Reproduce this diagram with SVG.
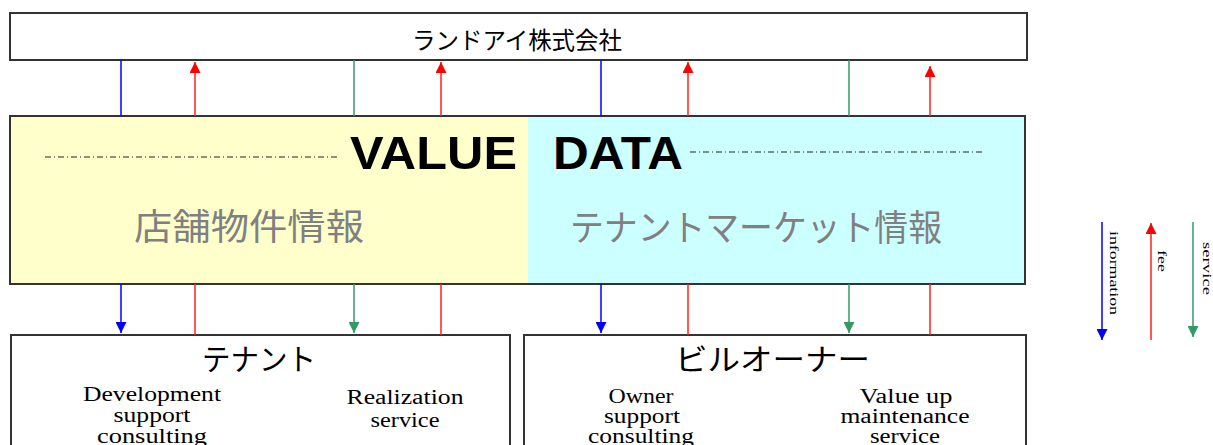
<svg xmlns="http://www.w3.org/2000/svg" width="1213" height="445" viewBox="0 0 1213 445">
<style>
.box{fill:#fff;stroke:#333;stroke-width:2}
.jp{font-family:"Noto Sans CJK JP","Noto Sans",sans-serif}
.ser{font-family:"Liberation Serif","DejaVu Serif",serif;font-size:20px;fill:#000;text-anchor:middle}
.gray{font-family:"Noto Sans CJK JP",sans-serif;font-size:36px;fill:#808080}
.vd{font-family:"Liberation Sans",Arial,sans-serif;font-weight:bold;font-size:46px;fill:#000}
.dash{stroke:#222;stroke-width:1;stroke-dasharray:6 3 1 3;fill:none}
.info{stroke:#0000FF;stroke-width:1.5;fill:none}
.fee{stroke:#FF2020;stroke-width:1.5;fill:none}
.svc{stroke:#339966;stroke-width:1.5;fill:none}
.leg{font-family:"Liberation Serif",serif;font-size:13px;fill:#000}
</style>
<defs>
<marker id="hb" viewBox="0 0 10 10" refX="10" refY="5" markerWidth="13" markerHeight="11" markerUnits="userSpaceOnUse" orient="auto"><path d="M0,0L10,5L0,10z" fill="#0000FF"/></marker>
<marker id="hr" viewBox="0 0 10 10" refX="10" refY="5" markerWidth="13" markerHeight="11" markerUnits="userSpaceOnUse" orient="auto"><path d="M0,0L10,5L0,10z" fill="#FF0000"/></marker>
<marker id="hg" viewBox="0 0 10 10" refX="10" refY="5" markerWidth="13" markerHeight="11" markerUnits="userSpaceOnUse" orient="auto"><path d="M0,0L10,5L0,10z" fill="#339966"/></marker>
</defs>

<g id="landi">
<rect class="box" x="10" y="13" width="1017" height="47"/>
<text class="jp" x="412" y="49" font-size="24" textLength="210" lengthAdjust="spacingAndGlyphs">ランドアイ株式会社</text>
</g>

<g id="valuedata">
<rect x="10" y="116" width="518" height="168" fill="#FFFFCC"/>
<rect x="528" y="116" width="497" height="168" fill="#CCFFFF"/>
<rect x="10" y="116" width="1015" height="168" fill="none" stroke="#333" stroke-width="2"/>
<line class="dash" x1="45" y1="157" x2="340" y2="157"/>
<line class="dash" x1="690" y1="152" x2="985" y2="152"/>
<text class="vd" x="350" y="169" textLength="167" lengthAdjust="spacingAndGlyphs">VALUE</text>
<text class="vd" x="553" y="169" textLength="130" lengthAdjust="spacingAndGlyphs">DATA</text>
<text class="gray" x="134" y="240" textLength="230" lengthAdjust="spacingAndGlyphs">店舗物件情報</text>
<text class="gray" x="570" y="241" textLength="372" lengthAdjust="spacingAndGlyphs">テナントマーケット情報</text>
</g>

<g id="tenant">
<rect class="box" x="11" y="335" width="499" height="130"/>
<text class="jp" x="202" y="370" font-size="30" textLength="114" lengthAdjust="spacingAndGlyphs">テナント</text>
<text class="ser" x="152" y="401" textLength="138" lengthAdjust="spacingAndGlyphs">Development</text>
<text class="ser" x="152" y="422" textLength="77" lengthAdjust="spacingAndGlyphs">support</text>
<text class="ser" x="152" y="443" textLength="110" lengthAdjust="spacingAndGlyphs">consulting</text>
<text class="ser" x="405" y="404" textLength="117" lengthAdjust="spacingAndGlyphs">Realization</text>
<text class="ser" x="405" y="427" textLength="69" lengthAdjust="spacingAndGlyphs">service</text>
</g>

<g id="owner">
<rect class="box" x="524" y="335" width="502" height="130"/>
<text class="jp" x="675" y="370" font-size="30" textLength="195" lengthAdjust="spacingAndGlyphs">ビルオーナー</text>
<text class="ser" x="641" y="403" textLength="65" lengthAdjust="spacingAndGlyphs">Owner</text>
<text class="ser" x="642" y="423" textLength="76" lengthAdjust="spacingAndGlyphs">support</text>
<text class="ser" x="641" y="443" textLength="106" lengthAdjust="spacingAndGlyphs">consulting</text>
<text class="ser" x="906" y="403" textLength="93" lengthAdjust="spacingAndGlyphs">Value up</text>
<text class="ser" x="905" y="423" textLength="129" lengthAdjust="spacingAndGlyphs">maintenance</text>
<text class="ser" x="905" y="443" textLength="70" lengthAdjust="spacingAndGlyphs">service</text>
</g>

<g id="connectors">
<line class="info" x1="121" y1="60" x2="121" y2="116"/>
<path class="fee" d="M195,116L195,62" marker-end="url(#hr)"/>
<line class="svc" x1="354" y1="60" x2="354" y2="116"/>
<path class="fee" d="M441,116L441,62" marker-end="url(#hr)"/>
<line class="info" x1="601" y1="60" x2="601" y2="116"/>
<path class="fee" d="M688,116L688,62" marker-end="url(#hr)"/>
<line class="svc" x1="849" y1="60" x2="849" y2="116"/>
<path class="fee" d="M930,116L930,66" marker-end="url(#hr)"/>

<path class="info" d="M121,284L121,333" marker-end="url(#hb)"/>
<line class="fee" x1="195" y1="284" x2="195" y2="335"/>
<path class="svc" d="M354,284L354,333" marker-end="url(#hg)"/>
<line class="fee" x1="441" y1="284" x2="441" y2="335"/>
<path class="info" d="M601,284L601,333" marker-end="url(#hb)"/>
<line class="fee" x1="688" y1="284" x2="688" y2="335"/>
<path class="svc" d="M849,284L849,333" marker-end="url(#hg)"/>
<line class="fee" x1="930" y1="284" x2="930" y2="335"/>
</g>

<g id="legend">
<path class="info" d="M1102,222L1102,340" marker-end="url(#hb)"/>
<path class="fee" d="M1151,340L1151,223" marker-end="url(#hr)"/>
<path class="svc" d="M1193,222L1193,337" marker-end="url(#hg)"/>
<text class="leg" transform="translate(1110,231) rotate(90)" textLength="84" lengthAdjust="spacingAndGlyphs">information</text>
<text class="leg" transform="translate(1158,250) rotate(90)" textLength="22" lengthAdjust="spacingAndGlyphs">fee</text>
<text class="leg" transform="translate(1203,242) rotate(90)" textLength="53" lengthAdjust="spacingAndGlyphs">service</text>
</g>
</svg>
